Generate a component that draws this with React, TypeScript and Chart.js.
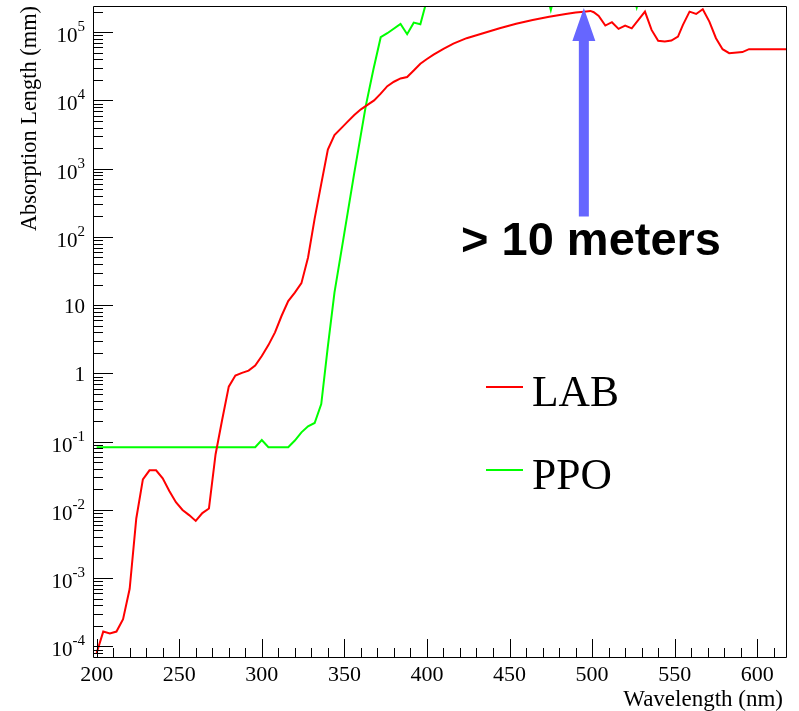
import React, { useEffect, useRef } from 'react';
import { Chart, registerables } from 'chart.js';

Chart.register(...registerables);

// ---------- data (wavelength in nm, absorption length in mm) ----------
const LAB_WAVELENGTH = [
  200, 204, 208, 212, 216, 220, 224, 228, 232, 236, 240, 244, 248, 252, 256, 260, 264, 268,
  272, 276, 280, 284, 288, 292, 296, 300, 304, 308, 312, 316, 320, 324, 328, 332, 336, 340,
  344, 348, 352, 356, 360, 364, 368, 372, 376, 380, 384, 388, 392, 396, 400, 404, 410, 416,
  424, 434, 444, 454, 464, 474, 484, 490, 495, 499, 501, 504, 508, 512, 516, 520, 524, 532,
  536, 540, 544, 548, 552, 555, 559, 563, 567, 571, 575, 579, 583, 591, 595, 620,
];
const LAB_LENGTH = [
  8.0e-5, 1.65e-4, 1.55e-4, 1.65e-4, 2.5e-4, 7.0e-4, 7.5e-3, 2.8e-2, 3.8e-2, 3.8e-2, 2.9e-2,
  1.9e-2, 1.3e-2, 1.0e-2, 8.4e-3, 6.9e-3, 9.0e-3, 1.05e-2,
  0.065, 0.21, 0.64, 0.93, 1.02, 1.1, 1.3, 1.8, 2.6, 4.0, 7.0, 11.5, 15.3, 21, 50, 185, 600, 1900,
  3100, 3900, 4900, 6100, 7400, 8600, 10000, 12600, 16200, 18800, 21000, 22000, 27500, 34500,
  40500, 47000, 57000, 68000,
  81700, 96600, 114000, 133000, 151000, 168000, 185000, 194000, 200000, 205000, 196000, 173000,
  125000, 140000, 112000, 125000, 114000, 200000,
  108000, 74700, 73000, 75300, 86200, 128000, 200000, 185000, 217000, 143000, 81700, 56400,
  49300, 51100, 56400, 56400,
];

const PPO_WAVELENGTH = [
  200, 296, 300, 304, 316, 320, 324, 328, 332, 336, 340, 344, 350, 356, 363, 367.5, 372, 376,
  384, 388, 392, 396, 400, 420, 450, 471, 475, 479, 500, 523, 527, 531, 560, 600, 620,
];
const PPO_LENGTH = [
  0.083, 0.083, 0.106, 0.083, 0.083, 0.104, 0.137, 0.168, 0.188, 0.356, 2.5, 15.3, 115, 870,
  8400, 28000, 84500, 96600, 132000, 93500, 138000, 131000, 300000, 600000, 800000, 500000,
  212000, 500000, 700000, 500000, 230000, 500000, 800000, 1000000, 1000000,
];

const SERIES_LABELS = ['LAB', 'PPO'];
const X_MAJOR_TICKS = [200, 250, 300, 350, 400, 450, 500, 550, 600];
const X_MINOR_TICKS = [
  210, 220, 230, 240, 260, 270, 280, 290, 310, 320, 330, 340, 360, 370, 380, 390, 410, 420,
  430, 440, 460, 470, 480, 490, 510, 520, 530, 540, 560, 570, 580, 590, 610,
];
const Y_DECADES = [-4, -3, -2, -1, 0, 1, 2, 3, 4, 5];
const Y_TICK_BASES = ['10', '10', '10', '10', '1', '10', '10', '10', '10', '10'];
const Y_TICK_EXPONENTS = ['-4', '-3', '-2', '-1', '', '', '2', '3', '4', '5'];

const X_MIN = 198.4;
const X_MAX = 617.4;
const Y_MIN = 7.39e-5;
const Y_MAX = 2.42e5;

const ANNOTATION_TEXT = '> 10 meters';
const ARROW_WAVELENGTH = 495;
const ARROW_TIP = 2.26e5;
const ARROW_BASE = 200;

const X_TITLE = 'Wavelength (nm)';
const Y_TITLE = 'Absorption Length (mm)';

const SERIF = '"Liberation Serif", "Times New Roman", serif';

const rootStylePlugin = {
  id: 'rootStyle',
  afterDatasetsDraw(chart: any) {
    const { ctx, chartArea: a, scales } = chart;
    const xs = scales.x;
    const ys = scales.y;
    ctx.save();

    // frame
    ctx.strokeStyle = '#000';
    ctx.lineWidth = 1;
    ctx.beginPath();
    ctx.moveTo(a.left - 0.5, a.top + 0.5);
    ctx.lineTo(a.right + 0.5, a.top + 0.5);
    ctx.lineTo(a.right + 0.5, a.bottom + 0.5);
    ctx.lineTo(a.left - 0.5, a.bottom + 0.5);
    ctx.closePath();
    ctx.stroke();

    // x ticks
    ctx.beginPath();
    X_MAJOR_TICKS.forEach((v) => {
      const px = Math.round(xs.getPixelForValue(v)) + 0.5;
      ctx.moveTo(px, a.bottom);
      ctx.lineTo(px, a.bottom - 18);
    });
    X_MINOR_TICKS.forEach((v) => {
      const px = Math.round(xs.getPixelForValue(v)) + 0.5;
      ctx.moveTo(px, a.bottom);
      ctx.lineTo(px, a.bottom - 9);
    });
    // y ticks
    for (let d = -5; d <= 5; d++) {
      for (let m = 1; m <= 9; m++) {
        const v = m * Math.pow(10, d);
        if (v < Y_MIN || v > Y_MAX) continue;
        const py = Math.round(ys.getPixelForValue(v)) + 0.5;
        ctx.moveTo(a.left, py);
        ctx.lineTo(a.left + (m === 1 ? 19 : 9), py);
      }
    }
    ctx.stroke();

    // x labels
    ctx.fillStyle = '#000';
    ctx.font = `22px ${SERIF}`;
    ctx.textAlign = 'center';
    ctx.textBaseline = 'alphabetic';
    X_MAJOR_TICKS.forEach((v) => {
      ctx.fillText(String(v), xs.getPixelForValue(v), 681);
    });

    // y labels
    Y_DECADES.forEach((d, i) => {
      const py = ys.getPixelForValue(Math.pow(10, d));
      const base = Y_TICK_BASES[i];
      const exp = Y_TICK_EXPONENTS[i];
      const right = 85;
      if (exp) {
        ctx.font = `15px ${SERIF}`;
        const ew = ctx.measureText(exp).width;
        ctx.textAlign = 'left';
        ctx.fillText(exp, right - ew, py - 1);
        ctx.font = `21px ${SERIF}`;
        ctx.textAlign = 'right';
        ctx.fillText(base, right - ew, py + 10);
      } else {
        ctx.font = `21px ${SERIF}`;
        ctx.textAlign = 'right';
        ctx.fillText(base, right, py + 8);
      }
    });

    // axis titles
    ctx.font = `23px ${SERIF}`;
    ctx.textAlign = 'right';
    ctx.fillText(X_TITLE, 783, 706);
    ctx.save();
    ctx.translate(35.5, 6);
    ctx.rotate(-Math.PI / 2);
    ctx.font = `22.4px ${SERIF}`;
    ctx.textAlign = 'right';
    ctx.fillText(Y_TITLE, 0, 0);
    ctx.restore();

    // legend
    const legendY = [387, 470];
    chart.data.datasets.forEach((ds: any, i: number) => {
      ctx.strokeStyle = ds.borderColor;
      ctx.lineWidth = 2;
      ctx.beginPath();
      ctx.moveTo(486, legendY[i]);
      ctx.lineTo(523, legendY[i]);
      ctx.stroke();
      ctx.fillStyle = '#000';
      ctx.font = `43.5px ${SERIF}`;
      ctx.textAlign = 'left';
      ctx.fillText(ds.label, 532, legendY[i] + 19);
    });

    // arrow annotation
    const ax = xs.getPixelForValue(ARROW_WAVELENGTH);
    const tipY = ys.getPixelForValue(ARROW_TIP);
    const baseY = ys.getPixelForValue(ARROW_BASE);
    ctx.fillStyle = 'rgb(102,102,255)';
    ctx.beginPath();
    ctx.moveTo(ax, tipY);
    ctx.lineTo(ax + 11.5, tipY + 33);
    ctx.lineTo(ax + 5, tipY + 33);
    ctx.lineTo(ax + 5, baseY);
    ctx.lineTo(ax - 5, baseY);
    ctx.lineTo(ax - 5, tipY + 33);
    ctx.lineTo(ax - 11.5, tipY + 33);
    ctx.closePath();
    ctx.fill();

    ctx.fillStyle = '#000';
    ctx.font = 'bold 47px "Liberation Sans", Arial, sans-serif';
    ctx.textAlign = 'left';
    ctx.fillText(ANNOTATION_TEXT, 461, 255);

    ctx.restore();
  },
};

export default function App() {
  const canvasRef = useRef<HTMLCanvasElement | null>(null);

  useEffect(() => {
    if (!canvasRef.current) return;
    const chart = new Chart(canvasRef.current, {
      type: 'line',
      data: {
        datasets: [
          {
            label: SERIES_LABELS[0],
            data: LAB_WAVELENGTH.map((x, i) => ({ x, y: LAB_LENGTH[i] })),
            borderColor: 'rgb(255,0,0)',
            borderWidth: 2,
            pointRadius: 0,
            tension: 0,
            fill: false,
            clip: 0,
          },
          {
            label: SERIES_LABELS[1],
            data: PPO_WAVELENGTH.map((x, i) => ({ x, y: PPO_LENGTH[i] })),
            borderColor: 'rgb(0,255,0)',
            borderWidth: 2,
            pointRadius: 0,
            tension: 0,
            fill: false,
            clip: 0,
          },
        ],
      },
      options: {
        responsive: false,
        animation: false,
        events: [],
        layout: { padding: { left: 0, right: 13, top: 6, bottom: 0 } },
        plugins: { legend: { display: false }, tooltip: { enabled: false } },
        scales: {
          x: {
            type: 'linear',
            min: X_MIN,
            max: X_MAX,
            grid: { display: false },
            border: { display: false },
            ticks: { display: false },
            afterFit: (s: any) => {
              s.height = 54;
            },
          },
          y: {
            type: 'logarithmic',
            min: Y_MIN,
            max: Y_MAX,
            grid: { display: false },
            border: { display: false },
            ticks: { display: false },
            afterFit: (s: any) => {
              s.width = 94;
            },
          },
        },
      },
      plugins: [rootStylePlugin],
    } as any);
    return () => chart.destroy();
  }, []);

  return (
    <div style={{ position: 'absolute', left: 0, top: 0, width: 799, height: 711, background: '#fff' }}>
      <canvas ref={canvasRef} width={799} height={711} style={{ display: 'block' }} />
    </div>
  );
}
